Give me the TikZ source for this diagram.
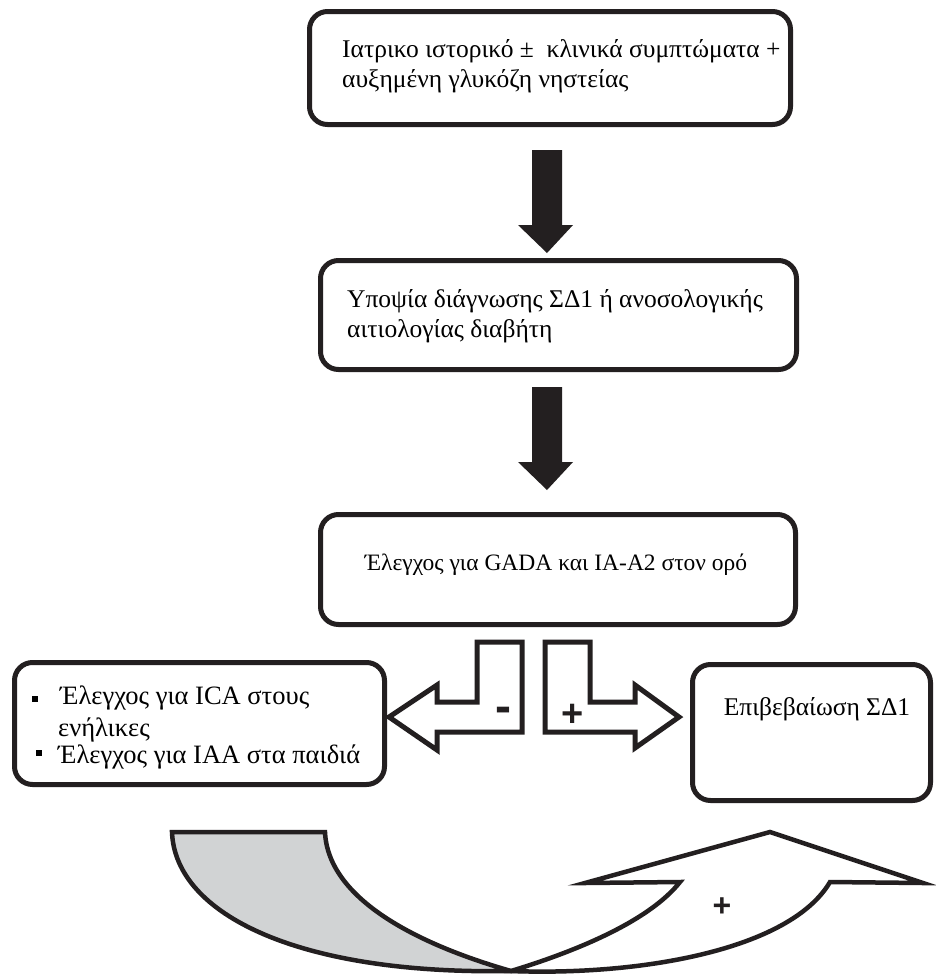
\documentclass[tikz,border=0pt]{standalone}
\usepackage{fontspec}
\setmainfont{Liberation Serif}
\newfontfamily\plainsans{Liberation Sans}
\definecolor{ink}{HTML}{231F20}
\definecolor{greyfill}{HTML}{D1D3D4}
\begin{document}
\begin{tikzpicture}[x=1pt,y=-1pt]
\tikzset{
  box/.style={draw=ink, line width=5pt, rounded corners=18pt, fill=white, inner sep=0pt},
  txt/.style={inner sep=0pt, anchor=base west, font=\fontsize{25.5}{30}\selectfont, text=black},
  blockarrow/.style={draw=ink, line width=5pt, fill=white, line join=miter},
  downarrow/.style={fill=ink, draw=none},
  sign/.style={font=\plainsans\bfseries\fontsize{38}{38}\selectfont, inner sep=0pt, text=ink, anchor=base},
  bullet/.style={fill=black, draw=none, minimum size=6pt, inner sep=0pt},
}
\useasboundingbox (0,0) rectangle (936,978);
\fill[white] (0,0) rectangle (936,978);

% boxes
\node[box, minimum width=481pt, minimum height=113pt] (b1) at (550,68) {};
\node[box, minimum width=476pt, minimum height=109pt] (b2) at (558.5,315) {};
\node[box, minimum width=475pt, minimum height=110pt] (b3) at (558,569.5) {};
\node[box, minimum width=370pt, minimum height=122pt] (bl) at (199.5,723.5) {};
\node[box, minimum width=238pt, minimum height=136pt] (br) at (811.5,732.5) {};

% texts
\node[txt] (t1a) at (342,57) {Ιατρικο ιστορικό ±\ \ κλινικά συμπτώματα +};
\node[txt] (t1b) at (342,87) {αυξημένη γλυκόζη νηστείας};
\node[txt] (t2a) at (347,307) {Υποψία διάγνωσης ΣΔ1 ή ανοσολογικής};
\node[txt] (t2b) at (347,337) {αιτιολογίας διαβήτη};
\node[txt, anchor=base, font=\fontsize{23.5}{30}\selectfont] (t3) at (556,570) {Έλεγχος για GADA και IA-A2 στον ορό};
\node[bullet] (u1) at (35,699) {};
\node[txt, font=\fontsize{26.5}{30}\selectfont] (tl1) at (60,704) {Έλεγχος για ICA στους};
\node[txt, font=\fontsize{26.5}{30}\selectfont] (tl2) at (58,736) {ενήλικες};
\node[bullet] (u2) at (39,753) {};
\node[txt, font=\fontsize{26.5}{30}\selectfont] (tl3) at (58,763) {Έλεγχος για IAA στα παιδιά};
\node[txt, anchor=base] (tr) at (817,715) {Επιβεβαίωση ΣΔ1};

% black down arrows
\fill[downarrow] (532,150) -- (562,150) -- (562,225) -- (573,225) -- (547,253) -- (518,225) -- (532,225) -- cycle;
\fill[downarrow] (532,387) -- (562,387) -- (562,462) -- (573,462) -- (547,490) -- (518,462) -- (532,462) -- cycle;

% elbow arrows
\draw[blockarrow] (477,642) -- (522,642) -- (522,732) -- (437,732) -- (437,750) -- (389,717) -- (437,685) -- (437,702) -- (477,702) -- cycle;
\draw[blockarrow] (545,642) -- (590,642) -- (590,702) -- (635,702) -- (635,685) -- (679,717) -- (635,748) -- (635,732) -- (545,732) -- cycle;
\node[sign, font=\plainsans\bfseries\fontsize{48}{48}\selectfont] (minus) at (503,722) {-};
\node[sign] (plus1) at (573,726) {+};

% curved arrow
\coordinate (X) at (511,971);
\filldraw[fill=greyfill, draw=ink, line width=4.5pt, line join=miter] (172,832) -- (325,832) .. controls (328,900) and (420,945) .. (X) .. controls (300,975) and (175,915) .. (172,832) -- cycle;
\filldraw[fill=white, draw=ink, line width=4.5pt, line join=miter] (X) .. controls (640,976) and (790,950) .. (830,882) -- (923,883) -- (770,832) -- (585,883) -- (680,882) .. controls (650,920) and (580,950) .. (X) -- cycle;
\node[sign, font=\plainsans\bfseries\fontsize{32}{32}\selectfont] (plus2) at (722,916) {+};
\end{tikzpicture}
\end{document}
